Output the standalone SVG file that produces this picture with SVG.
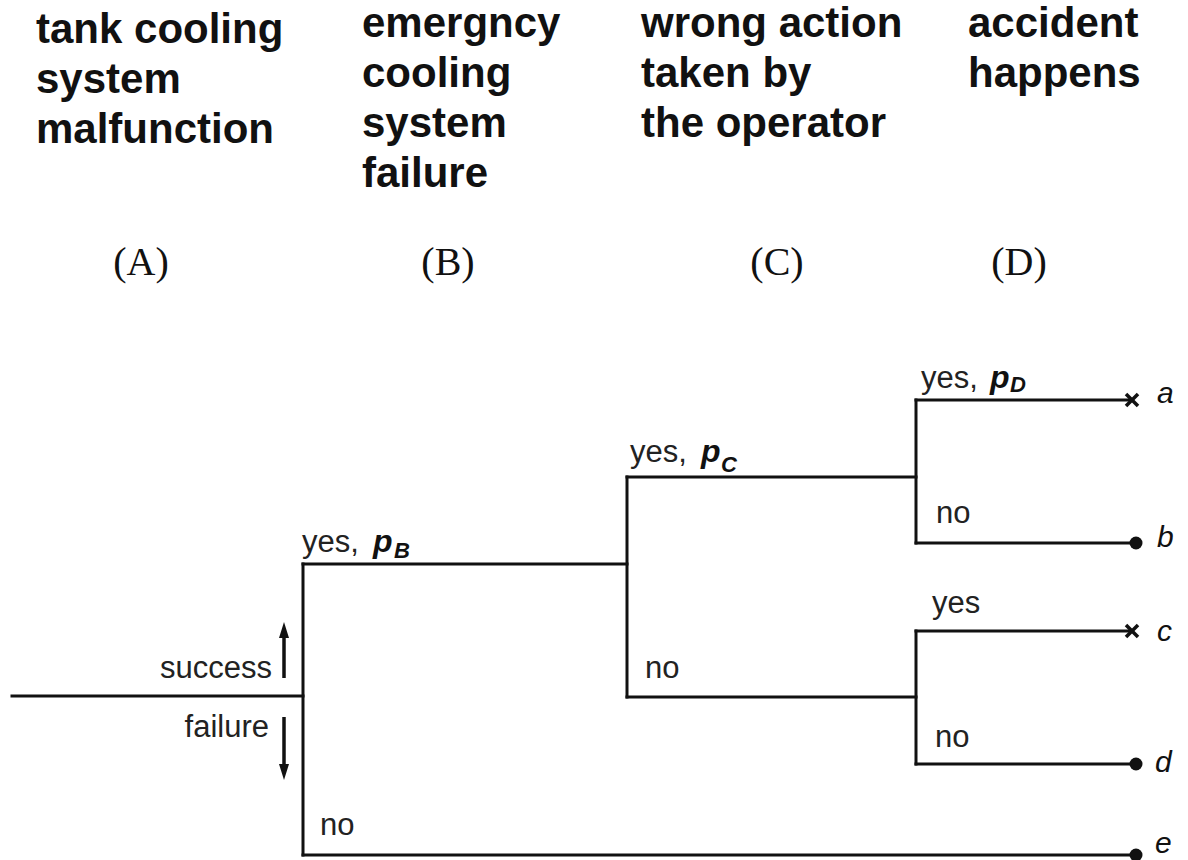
<svg xmlns="http://www.w3.org/2000/svg" width="1188" height="860" viewBox="0 0 1188 860">
  <style>
    .head { font-family: "Liberation Sans", Arial, sans-serif; font-weight: bold; font-size: 42px; fill: #111; }
    .col { font-family: "Liberation Serif", "Times New Roman", serif; font-size: 40px; fill: #111; text-anchor: middle; }
    .lbl { font-family: "Liberation Sans", Arial, sans-serif; font-size: 31px; fill: #222; }
    .prob { font-family: "Liberation Sans", Arial, sans-serif; font-weight: bold; font-style: italic; fill: #111; }
    .end { font-family: "Liberation Sans", Arial, sans-serif; font-style: italic; font-size: 30px; fill: #111; }
    .wire { fill: none; stroke: #111; stroke-width: 3; stroke-linecap: square; }
    .cross { stroke: #111; stroke-width: 3.5; }
    .dot { fill: #111; }
  </style>
  <defs>
    <marker id="head" viewBox="0 0 16 10" refX="2" refY="5" markerWidth="16" markerHeight="10" markerUnits="userSpaceOnUse" orient="auto">
      <path d="M0,0 L16,5 L0,10 Z" fill="#111"/>
    </marker>
  </defs>

  <rect width="1188" height="860" fill="#ffffff"/>

  <!-- column headings -->
  <g id="heading-A">
    <text class="head" x="36" y="43">tank cooling</text>
    <text class="head" x="36" y="93">system</text>
    <text class="head" x="36" y="143">malfunction</text>
    <text class="col" x="141" y="275">(A)</text>
  </g>
  <g id="heading-B">
    <text class="head" x="362" y="37">emergncy</text>
    <text class="head" x="362" y="87">cooling</text>
    <text class="head" x="362" y="137">system</text>
    <text class="head" x="362" y="187">failure</text>
    <text class="col" x="448" y="275">(B)</text>
  </g>
  <g id="heading-C">
    <text class="head" x="641" y="37">wrong action</text>
    <text class="head" x="641" y="87">taken by</text>
    <text class="head" x="641" y="137">the operator</text>
    <text class="col" x="777" y="275">(C)</text>
  </g>
  <g id="heading-D">
    <text class="head" x="968" y="37">accident</text>
    <text class="head" x="968" y="87">happens</text>
    <text class="col" x="1019" y="275">(D)</text>
  </g>

  <!-- branch lines of the event tree -->
  <g id="connectors">
    <path class="wire" d="M12,696 H303"/>
    <path class="wire" d="M303,564 V855"/>
    <path class="wire" d="M303,564 H627"/>
    <path class="wire" d="M303,855 H1135"/>
    <path class="wire" d="M627,477 V697"/>
    <path class="wire" d="M627,477 H916"/>
    <path class="wire" d="M627,697 H916"/>
    <path class="wire" d="M916,400 V543"/>
    <path class="wire" d="M916,400 H1130"/>
    <path class="wire" d="M916,543 H1135"/>
    <path class="wire" d="M916,631 V764"/>
    <path class="wire" d="M916,631 H1130"/>
    <path class="wire" d="M916,764 H1135"/>
    <!-- success / failure direction arrows -->
    <line x1="284" y1="678" x2="284" y2="636" stroke="#111" stroke-width="3.5" marker-end="url(#head)"/>
    <line x1="284" y1="717" x2="284" y2="766" stroke="#111" stroke-width="3.5" marker-end="url(#head)"/>
  </g>

  <g id="start">
    <text class="lbl" x="272" y="678" text-anchor="end">success</text>
    <text class="lbl" x="269" y="737" text-anchor="end">failure</text>
  </g>

  <g id="node-B">
    <text class="lbl" x="302" y="552">yes,</text>
    <text class="prob" x="373" y="552" font-size="32">p</text>
    <text class="prob" x="394" y="558" font-size="22">B</text>
    <text class="lbl" x="320" y="835">no</text>
  </g>

  <g id="node-C">
    <text class="lbl" x="630" y="462">yes,</text>
    <text class="prob" x="701" y="462" font-size="32">p</text>
    <text class="prob" x="721" y="472" font-size="22">C</text>
    <text class="lbl" x="645" y="678">no</text>
  </g>

  <g id="node-D-upper">
    <text class="lbl" x="921" y="388">yes,</text>
    <text class="prob" x="990" y="388" font-size="32">p</text>
    <text class="prob" x="1010" y="392" font-size="22">D</text>
    <text class="lbl" x="936" y="523">no</text>
  </g>

  <g id="node-D-lower">
    <text class="lbl" x="932" y="613">yes</text>
    <text class="lbl" x="935" y="747">no</text>
  </g>

  <!-- outcomes -->
  <g id="outcome-a">
    <line class="cross" x1="1126" y1="394" x2="1138" y2="406"/>
    <line class="cross" x1="1126" y1="406" x2="1138" y2="394"/>
    <text class="end" x="1157" y="403">a</text>
  </g>
  <g id="outcome-b">
    <circle class="dot" cx="1136" cy="543" r="6.5"/>
    <text class="end" x="1157" y="547">b</text>
  </g>
  <g id="outcome-c">
    <line class="cross" x1="1126" y1="625" x2="1138" y2="637"/>
    <line class="cross" x1="1126" y1="637" x2="1138" y2="625"/>
    <text class="end" x="1157" y="641">c</text>
  </g>
  <g id="outcome-d">
    <circle class="dot" cx="1136" cy="764" r="6.5"/>
    <text class="end" x="1155" y="772">d</text>
  </g>
  <g id="outcome-e">
    <circle class="dot" cx="1136" cy="855" r="6.5"/>
    <text class="end" x="1155" y="853" font-size="28">e</text>
  </g>
</svg>
